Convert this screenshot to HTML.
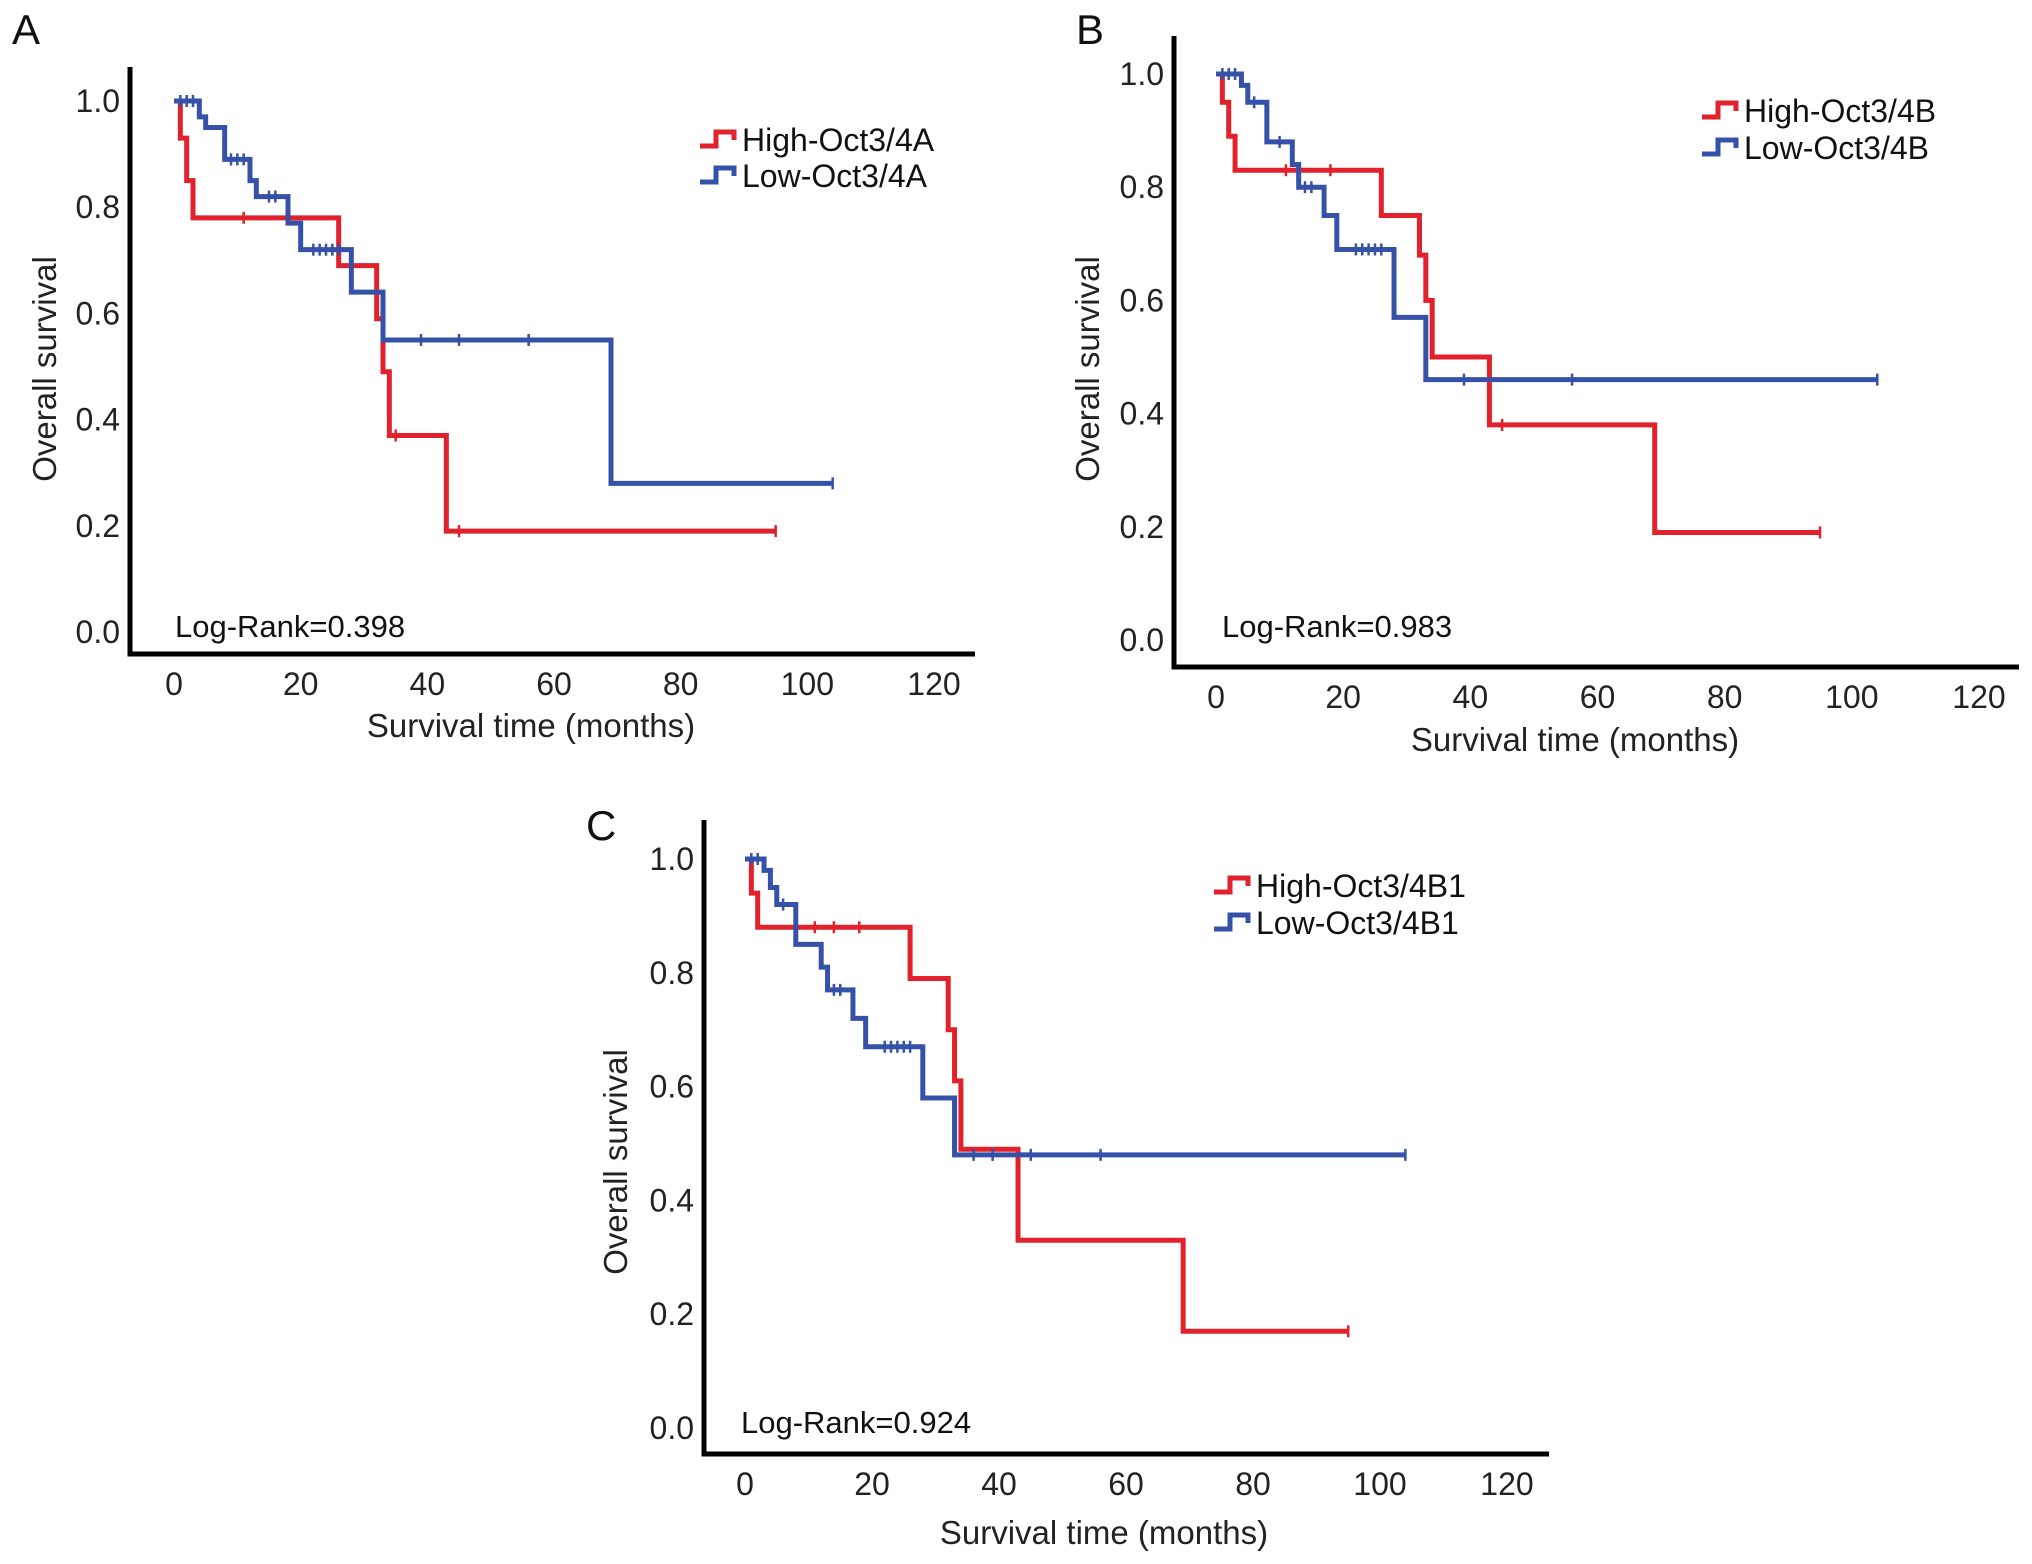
<!DOCTYPE html>
<html><head><meta charset="utf-8"><style>
html,body{margin:0;padding:0;background:#fff;}
svg{display:block;font-family:"Liberation Sans",Arial,sans-serif;}
</style></head><body>
<svg id="fig" width="2032" height="1564" viewBox="0 0 2032 1564" xmlns="http://www.w3.org/2000/svg"></svg>
<script>
// ---- data ----
const xTicks = [0,20,40,60,80,100,120];
const yTicks = [0.0,0.2,0.4,0.6,0.8,1.0];
const yTickLabels = ["0.0","0.2","0.4","0.6","0.8","1.0"];

const aHighT = [0,1,2,3,26,32,33,34,43,95];
const aHighS = [1.0,0.93,0.85,0.78,0.69,0.59,0.49,0.37,0.19,0.19];
const aHighC = [11,18,35,45,95];
const aLowT = [0,4,5,8,12,13,18,20,28,33,69,104];
const aLowS = [1.0,0.97,0.95,0.89,0.85,0.82,0.77,0.72,0.64,0.55,0.28,0.28];
const aLowC = [1,2,3,9,10,11,15,16,22,23,24,25,26,39,45,56,104];

const bHighT = [0,1,2,3,26,32,33,34,43,69,95];
const bHighS = [1.0,0.95,0.89,0.83,0.75,0.68,0.60,0.50,0.38,0.19,0.19];
const bHighC = [11,18,45,95];
const bLowT = [0,4,5,8,12,13,17,19,28,33,104];
const bLowS = [1.0,0.98,0.95,0.88,0.84,0.80,0.75,0.69,0.57,0.46,0.46];
const bLowC = [1,2,3,6,10,14,15,22,23,24,25,26,39,56,104];

const cHighT = [0,1,2,26,32,33,34,43,69,95];
const cHighS = [1.0,0.94,0.88,0.79,0.70,0.61,0.49,0.33,0.17,0.17];
const cHighC = [11,14,18,95];
const cLowT = [0,3,4,5,8,12,13,17,19,28,33,104];
const cLowS = [1.0,0.98,0.95,0.92,0.85,0.81,0.77,0.72,0.67,0.58,0.48,0.48];
const cLowC = [1,2,6,14,15,22,23,24,25,26,36,39,45,56,104];

const RED="#e1212c", BLUE="#3551a8";
const NS="http://www.w3.org/2000/svg";
const svg=document.getElementById('fig');
function mk(tag,attrs,parent){const e=document.createElementNS(NS,tag);for(const k in attrs)e.setAttribute(k,attrs[k]);(parent||svg).appendChild(e);return e;}

function panel(p){
  const g=mk('g',{});
  
  
  const X=t=>p.x0+(p.x120-p.x0)*t/120;
  const Y=s=>p.y0+(p.y1-p.y0)*s;
  const L=mk('text',{x:p.lx,y:p.ly,'font-size':42,fill:'#111'},g);L.textContent=p.id;
  
  
  const ax=mk('path',{d:`M${p.ax} ${p.top} L${p.ax} ${p.bot} L${p.right} ${p.bot}`,stroke:'#000','stroke-width':5,fill:'none'},g);
  
  
  yTicks.forEach((v,i)=>{const t=mk('text',{x:p.ax-10,y:Y(v)+11,'font-size':32,'text-anchor':'end',fill:'#222'},g);t.textContent=yTickLabels[i];
    
    });
  xTicks.forEach(v=>{const t=mk('text',{x:X(v),y:p.bot+41,'font-size':32,'text-anchor':'middle',fill:'#222'},g);t.textContent=v;
    
    });
  const xt=mk('text',{x:p.xtx,y:p.xty,'font-size':33,'text-anchor':'middle',fill:'#222'},g);xt.textContent='Survival time (months)';
  
  
  const yt=mk('text',{x:0,y:0,'font-size':33,'text-anchor':'middle',fill:'#222',transform:`translate(${p.ytx},${p.yty}) rotate(-90)`},g);yt.textContent='Overall survival';
  
  
  const lr=mk('text',{x:p.lrx,y:p.lry,'font-size':31,fill:'#111'},g);lr.textContent=p.logrank;
  
  
  p.series.forEach(s=>{
    let d=`M${X(s.t[0])} ${Y(s.s[0])}`;
    for(let i=1;i<s.t.length;i++){d+=` L${X(s.t[i])} ${Y(s.s[i-1])} L${X(s.t[i])} ${Y(s.s[i])}`;}
    const path=mk('path',{d,stroke:s.c,'stroke-width':5,fill:'none','stroke-linejoin':'miter'},g);
    
    
    s.cen.forEach(ct=>{let sv=s.s[0];for(let i=0;i<s.t.length;i++){if(s.t[i]<=ct)sv=s.s[i];}
      const m=mk('line',{x1:X(ct),x2:X(ct),y1:Y(sv)-6,y2:Y(sv)+6,stroke:s.c,'stroke-width':2.5},g);
      
      });
    const ly=s.ly;
    const ic=mk('path',{d:`M${p.legx} ${ly+6} L${p.legx+16} ${ly+6} L${p.legx+16} ${ly-8} L${p.legx+34} ${ly-8} L${p.legx+34} ${ly}`,stroke:s.c,'stroke-width':5,fill:'none'},g);
    
    
    const lt=mk('text',{x:p.legx+42,y:ly+11,'font-size':32,fill:'#111'},g);lt.textContent=s.label;
    
    
  });
}

panel({id:'A',lx:12,ly:44,ax:130,top:67,bot:654,right:975,x0:174,x120:934,y0:632,y1:101,
  xtx:531,xty:737,ytx:56,yty:369,lrx:175,lry:637,logrank:'Log-Rank=0.398',legx:700,
  series:[{t:aHighT,s:aHighS,cen:aHighC,c:RED,name:'high-oct3-4a',label:'High-Oct3/4A',ly:140},
          {t:aLowT,s:aLowS,cen:aLowC,c:BLUE,name:'low-oct3-4a',label:'Low-Oct3/4A',ly:176}]});
panel({id:'B',lx:1076,ly:44,ax:1174,top:36,bot:667,right:2019,x0:1216,x120:1979,y0:640,y1:74,
  xtx:1575,xty:751,ytx:1099,yty:369,lrx:1222,lry:637,logrank:'Log-Rank=0.983',legx:1702,
  series:[{t:bHighT,s:bHighS,cen:bHighC,c:RED,name:'high-oct3-4b',label:'High-Oct3/4B',ly:111},
          {t:bLowT,s:bLowS,cen:bLowC,c:BLUE,name:'low-oct3-4b',label:'Low-Oct3/4B',ly:148}]});
panel({id:'C',lx:586,ly:840,ax:704,top:820,bot:1454,right:1549,x0:745,x120:1507,y0:1428,y1:859,
  xtx:1104,xty:1544,ytx:627,yty:1162,lrx:741,lry:1433,logrank:'Log-Rank=0.924',legx:1214,
  series:[{t:cHighT,s:cHighS,cen:cHighC,c:RED,name:'high-oct3-4b1',label:'High-Oct3/4B1',ly:886},
          {t:cLowT,s:cLowS,cen:cLowC,c:BLUE,name:'low-oct3-4b1',label:'Low-Oct3/4B1',ly:923}]});
</script>
</body></html>
